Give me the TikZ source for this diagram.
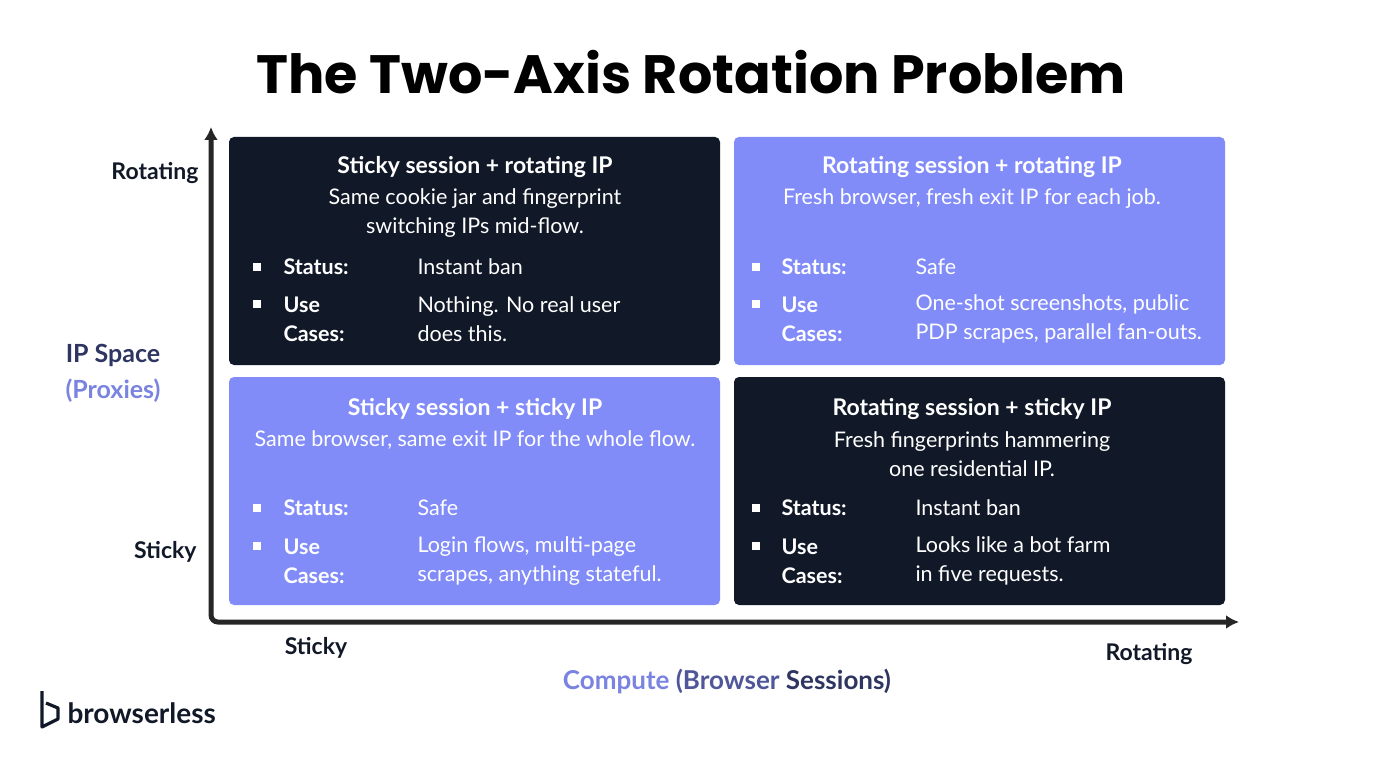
\documentclass[tikz,border=0pt]{standalone}
\usetikzlibrary{arrows.meta}
\usepackage{fontspec}
\setmainfont{Lato}
\newfontfamily\titlefont{Poppins}
\begin{document}
\begin{tikzpicture}[x=1pt,y=-1pt,
  dk/.style={fill=boxdark,rounded corners=5pt,draw=none},
  pu/.style={fill=boxpur,rounded corners=5pt,draw=none},
  hd/.style={font=\fontsize{23}{26}\selectfont\bfseries,text=white},
  sb/.style={font=\fontsize{21.5}{29}\selectfont,text=white,align=center},
  lb/.style={font=\fontsize{21.5}{29}\selectfont\bfseries,text=white,anchor=west,align=left},
  vl/.style={font=\fontsize{21.5}{29}\selectfont,text=white,anchor=west,align=left},
  bl/.style={fill=white,minimum size=8pt,inner sep=0pt},
  ax/.style={font=\fontsize{23}{26}\selectfont\bfseries,text=axtext}]
\definecolor{boxdark}{HTML}{111827}
\definecolor{boxpur}{HTML}{818CF8}
\definecolor{axtext}{HTML}{111827}
\definecolor{navy}{HTML}{2E3561}
\definecolor{lpur}{HTML}{7A83E0}
\definecolor{mpur}{HTML}{4F5699}
\useasboundingbox (0,0) rectangle (1382,770);
\node[font=\titlefont\fontsize{54}{60}\selectfont\bfseries] (title) at (691,72) {The Two-Axis Rotation Problem};
% axes
\coordinate (top) at (211,127);
\coordinate (org) at (211,622);
\coordinate (rgt) at (1239,622);
\draw[line width=5pt,color=black!85,rounded corners=7pt,{Latex[length=13pt,width=14pt]}-{Latex[length=13pt,width=14pt]}] (top) -- (org) -- (rgt);
% boxes
\path[dk] (229,137) rectangle (720,365);
\path[pu] (734,137) rectangle (1225,365);
\path[pu] (229,377) rectangle (720,605);
\path[dk] (734,377) rectangle (1225,605);
% TL
\node[hd] (tlh) at (475,167) {Sticky session + rotating IP};
\node[sb] (tls) at (475,213) {Same cookie jar and fingerprint\\switching IPs mid-flow.};
\node[bl] (tlb1) at (257,267) {}; \node[bl] (tlb2) at (257,304) {};
\node[lb] (tll1) at (280,267) {Status:}; \node[vl] (tlv1) at (414,267) {Instant ban};
\node[lb] (tll2) at (280,319) {Use\\Cases:}; \node[vl] (tlv2) at (414,319) {Nothing. No real user\\does this.};
% TR
\node[hd] (trh) at (972,167) {Rotating session + rotating IP};
\node[sb] (trs) at (972,199) {Fresh browser, fresh exit IP for each job.};
\node[bl] (trb1) at (756,267) {}; \node[bl] (trb2) at (756,304) {};
\node[lb] (trl1) at (778,267) {Status:}; \node[vl] (trv1) at (912,267) {Safe};
\node[lb] (trl2) at (778,319) {Use\\Cases:}; \node[vl] (trv2) at (912,319) {One-shot screenshots, public\\PDP scrapes, parallel fan-outs.};
% BL
\node[hd] (blh) at (475,409) {Sticky session + sticky IP};
\node[sb] (bls) at (475,440) {Same browser, same exit IP for the whole flow.};
\node[bl] (blb1) at (257,508) {}; \node[bl] (blb2) at (257,546) {};
\node[lb] (bll1) at (280,508) {Status:}; \node[vl] (blv1) at (414,508) {Safe};
\node[lb] (bll2) at (280,561) {Use\\Cases:}; \node[vl] (blv2) at (414,561) {Login flows, multi-page\\scrapes, anything stateful.};
% BR
\node[hd] (brh) at (972,409) {Rotating session + sticky IP};
\node[sb] (brs) at (972,454) {Fresh fingerprints hammering\\one residential IP.};
\node[bl] (brb1) at (756,508) {}; \node[bl] (brb2) at (756,546) {};
\node[lb] (brl1) at (778,508) {Status:}; \node[vl] (brv1) at (912,508) {Instant ban};
\node[lb] (brl2) at (778,561) {Use\\Cases:}; \node[vl] (brv2) at (912,561) {Looks like a bot farm\\in five requests.};
% axis labels
\node[ax,anchor=east] (yr) at (202,173) {Rotating};
\node[ax,anchor=east] (ys) at (200,552) {Sticky};
\node[ax] (xs) at (316,648) {Sticky};
\node[ax] (xr) at (1149,654) {Rotating};
\node[font=\fontsize{25}{36}\selectfont\bfseries,align=center] (ipl) at (113,373) {\textcolor{navy}{IP Space}\\\textcolor{lpur}{(Proxies)}};
\node[font=\fontsize{26}{30}\selectfont\bfseries] (cl) at (727,681) {\textcolor{lpur}{Compute} \textcolor{mpur}{(Browser} \textcolor{navy}{Sessions)}};
% logo
\draw[line width=3.2pt,color=boxdark,line join=round] (42,691) -- (42,727) -- (58,719) -- (58,708) -- (46,703);
\node[font=\fontsize{28}{32}\selectfont\bfseries,text=boxdark,anchor=west] (logo) at (64,713) {browserless};
\end{tikzpicture}
\end{document}
